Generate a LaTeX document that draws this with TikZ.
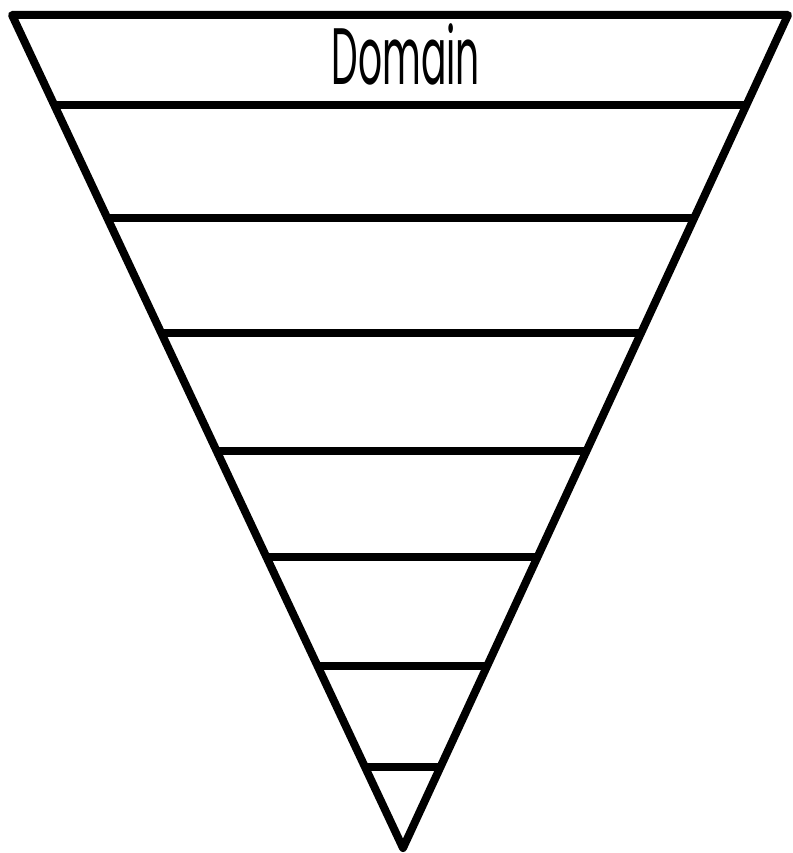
\documentclass[tikz,border=0pt]{standalone}
\usepackage{fontspec}
\newfontfamily\labelfont{Poppins}
\usetikzlibrary{calc}

\begin{document}
\begin{tikzpicture}[
  x=1pt, y=-1pt,
  edge/.style={line width=8pt, line join=round, line cap=round},
  level/.style={line width=8pt},
  title/.style={font=\labelfont\fontsize{80}{80}\selectfont, inner sep=0pt, anchor=base}
]
\useasboundingbox (0,0) rectangle (792,853);
\coordinate (tl) at (12,15);
\coordinate (tr) at (788,15);
\coordinate (apex) at (403,848);
% levels of the funnel
\foreach \t [count=\i] in {0.1078,0.2443,0.3820,0.5234,0.6503,0.7820,0.9030} {
  \coordinate (l\i) at ($(tl)!\t!(apex)$);
  \coordinate (r\i) at ($(tr)!\t!(apex)$);
  \draw[level] (l\i) -- (r\i);
}
\draw[edge] (tl) -- (tr) -- (apex) -- cycle;
\node[title] (domain) at (406,85) {\scalebox{0.47}[1]{Domain}};
\end{tikzpicture}
\end{document}
